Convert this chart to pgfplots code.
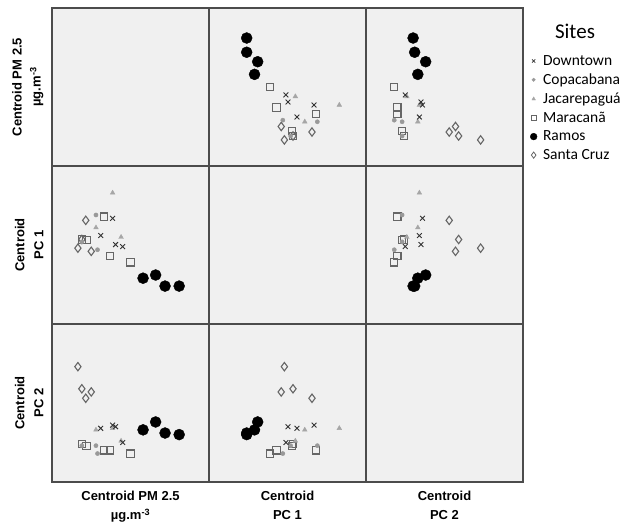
\documentclass[border=0pt]{standalone}
\usepackage{fontspec}
\setmainfont{Liberation Sans}
\newfontfamily\carlito{Carlito}
\usepackage{pgfplots}
\usepackage{pgfplotstable}
\pgfplotsset{compat=1.18}
\usepgfplotslibrary{groupplots}
\usetikzlibrary{calc}

% values on a 0-1 scale of each panel
\pgfplotstableread{
P C1 C2
0.386 0.669 0.36
0.31 0.56 0.34
0.405 0.503 0.35
0.45 0.49 0.25
}\downtown
\pgfplotstableread{
P C1 C2
0.28 0.69 0.23
0.29 0.47 0.18
0.19 0.52 0.23
}\copacabana
\pgfplotstableread{
P C1 C2
0.386 0.83 0.34
0.28 0.61 0.33
0.44 0.55 0.26
}\jacarepagua
\pgfplotstableread{
P C1 C2
0.50 0.39 0.18
0.37 0.43 0.20
0.33 0.68 0.20
0.22 0.53 0.23
0.19 0.535 0.24
}\maracana
\pgfplotstableread{
P C1 C2
0.58 0.29 0.33
0.66 0.31 0.38
0.72 0.24 0.31
0.81 0.24 0.30
}\ramos
\pgfplotstableread{
P C1 C2
0.165 0.48 0.73
0.19 0.535 0.59
0.25 0.46 0.57
0.215 0.656 0.53
}\santacruz

\pgfplotsset{
  dtn/.style={only marks, mark=x, mark size=3.4pt, black!80, line width=0.9pt},
  cop/.style={only marks, mark=*, mark size=2.1pt, gray!80},
  jac/.style={only marks, mark=triangle*, mark size=2.7pt, gray!70},
  mar/.style={only marks, mark=square, mark size=3.6pt, black!60, line width=1.1pt},
  ram/.style={only marks, mark=*, mark size=5.5pt, black},
  snc/.style={only marks, mark=diamond, mark size=4.2pt, black!60, line width=1.1pt},
}

\newcommand{\sites}[3][]{%
  \addplot[mar,#1] table[x=#2,y=#3]{\maracana};
  \addplot[snc,#1] table[x=#2,y=#3]{\santacruz};
  \addplot[cop,#1] table[x=#2,y=#3]{\copacabana};
  \addplot[jac,#1] table[x=#2,y=#3]{\jacarepagua};
  \addplot[dtn,#1] table[x=#2,y=#3]{\downtown};
  \addplot[ram,#1] table[x=#2,y=#3]{\ramos};
}

\begin{document}
\begin{tikzpicture}
\begin{groupplot}[
  group style={group size=3 by 3, horizontal sep=0pt, vertical sep=0pt},
  scale only axis,
  width=157pt, height=158pt,
  xmin=0, xmax=1, ymin=0, ymax=1,
  ticks=none,
  axis background/.style={fill=gray!12},
  axis line style={draw=black!70, line width=1.6pt},
  clip=false,
]
% row 1
\nextgroupplot
\nextgroupplot
\sites{C1}{P}
\nextgroupplot[
  legend style={at={(1.045,0.715)}, anchor=north west, draw=none, fill=none,
    font=\carlito\fontsize{15.5}{17}\selectfont, row sep=3pt,
    inner sep=0pt, /tikz/every odd column/.append style={column sep=4pt}},
  legend cell align=left,
]
\sites[forget plot]{C2}{P}
\addlegendimage{only marks, mark=x, mark size=2.3pt, black!80, line width=0.7pt}
\addlegendentry{Downtown}
\addlegendimage{only marks, mark=*, mark size=1.7pt, gray!80}
\addlegendentry{Copacabana}
\addlegendimage{only marks, mark=triangle*, mark size=2.1pt, gray!70}
\addlegendentry{Jacarepaguá}
\addlegendimage{only marks, mark=square, mark size=2.5pt, black!60, line width=0.8pt}
\addlegendentry{Maracanã}
\addlegendimage{only marks, mark=*, mark size=3.4pt, black}
\addlegendentry{Ramos}
\addlegendimage{only marks, mark=diamond, mark size=3.1pt, black!60, line width=0.8pt}
\addlegendentry{Santa Cruz}
% row 2
\nextgroupplot
\sites{P}{C1}
\nextgroupplot
\nextgroupplot
\sites{C2}{C1}
% row 3
\nextgroupplot
\sites{P}{C2}
\nextgroupplot
\sites{C1}{C2}
\nextgroupplot
\end{groupplot}

% legend title
\node[font=\carlito\fontsize{21}{23}\selectfont, anchor=north] at ($(group c3r1.north east)+(52pt,-13pt)$) {Sites};

% column labels
\tikzset{lbl/.style={font=\bfseries\fontsize{13}{19}\selectfont, align=center}}
\node[lbl, anchor=north] at ($(group c1r3.south)+(0,-6pt)$) {Centroid PM 2.5\\µg.m\textsuperscript{-3}};
\node[lbl, anchor=north] at ($(group c2r3.south)+(0,-6pt)$) {Centroid\\PC 1};
\node[lbl, anchor=north] at ($(group c3r3.south)+(0,-6pt)$) {Centroid\\PC 2};
% row labels
\node[lbl, rotate=90, anchor=south] at ($(group c1r1.west)+(-5pt,0)$) {Centroid PM 2.5\\µg.m\textsuperscript{-3}};
\node[lbl, rotate=90, anchor=south] at ($(group c1r2.west)+(-5pt,0)$) {Centroid\\PC 1};
\node[lbl, rotate=90, anchor=south] at ($(group c1r3.west)+(-5pt,0)$) {Centroid\\PC 2};

% page extent
\path ($(group c1r1.north west)+(-52pt,8pt)$) rectangle ++(628pt,-528pt);
\end{tikzpicture}
\end{document}
